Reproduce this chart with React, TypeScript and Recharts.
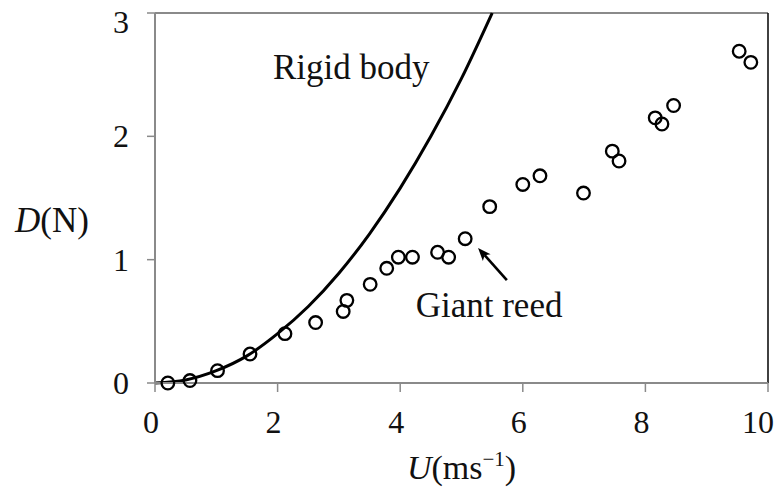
import { ComposedChart, Line, ReferenceDot, ReferenceLine, Scatter, XAxis, YAxis } from "recharts";

// Rigid body drag curve
const RIGID_U = [0, 0.5, 1, 1.5, 2, 2.5, 3, 3.5, 4, 4.5, 5, 5.5];
const RIGID_D = [0, 0.025, 0.1, 0.22, 0.4, 0.62, 0.89, 1.21, 1.58, 2.0, 2.47, 3.0];

// Giant reed measurements (open circles)
const REED_U = [0.21, 0.57, 1.02, 1.55, 2.12, 2.62, 3.07, 3.13, 3.51, 3.78, 3.97, 4.2, 4.61, 4.79, 5.06, 5.46, 6.0, 6.28, 6.99, 7.46, 7.57, 8.16, 8.27, 8.46, 9.53, 9.72];
const REED_D = [0, 0.02, 0.1, 0.235, 0.4, 0.49, 0.58, 0.67, 0.8, 0.93, 1.02, 1.02, 1.06, 1.02, 1.17, 1.43, 1.61, 1.68, 1.54, 1.88, 1.8, 2.15, 2.1, 2.25, 2.69, 2.6];

const X_TICKS = [0, 2, 4, 6, 8, 10];
const Y_TICKS = [0, 1, 2, 3];

// annotation anchors, in data units
const RIGID_LABEL = { u: 3.2, d: 2.56, text: "Rigid body" };
const REED_LABEL = { u: 5.45, d: 0.63, text: "Giant reed" };
const ARROW = { fromU: 5.74, fromD: 0.835, toU: 5.27, toD: 1.095 };

const FONT = "'Liberation Serif', 'DejaVu Serif', serif";
const AXIS_GRAY = "#8a8a8a";

const rigidData = RIGID_U.map((u, i) => ({ u, d: RIGID_D[i] }));
const reedData = REED_U.map((u, i) => ({ u, d: REED_D[i] }));

function XTick({ x, y, payload }: any) {
  const last = payload.value === X_TICKS[X_TICKS.length - 1];
  return (
    <text
      x={last ? x + 7 : x - 4}
      y={y + 39}
      textAnchor={last ? "end" : "middle"}
      fontFamily={FONT}
      fontSize={32}
      fill="#111"
    >
      {payload.value}
    </text>
  );
}

function YTick({ x, y, payload }: any) {
  return (
    <text x={x - 16} y={Math.max(y, 22) + 11} textAnchor="end" fontFamily={FONT} fontSize={32} fill="#111">
      {payload.value}
    </text>
  );
}

function OpenCircle({ cx, cy }: any) {
  return <circle cx={cx} cy={cy} r={6.3} fill="none" stroke="#000" strokeWidth={2.3} />;
}

function ArrowShape({ x1, y1, x2, y2 }: any) {
  if (x1 == null) return null;
  const ang = Math.atan2(y2 - y1, x2 - x1);
  const len = 14;
  const spread = 0.38;
  const ax = x2 - len * Math.cos(ang - spread);
  const ay = y2 - len * Math.sin(ang - spread);
  const bx = x2 - len * Math.cos(ang + spread);
  const by = y2 - len * Math.sin(ang + spread);
  const bx2 = x2 - len * 0.7 * Math.cos(ang);
  const by2 = y2 - len * 0.7 * Math.sin(ang);
  return (
    <g>
      <line x1={x1} y1={y1} x2={bx2} y2={by2} stroke="#000" strokeWidth={2.6} />
      <path d={`M${x2},${y2} L${ax},${ay} L${bx2},${by2} L${bx},${by} Z`} fill="#000" />
    </g>
  );
}

function textShape(text: string) {
  return ({ cx, cy }: any) => (
    <text x={cx} y={cy} textAnchor="middle" dominantBaseline="central" fontFamily={FONT} fontSize={35} fill="#111">
      {text}
    </text>
  );
}

export default function App() {
  return (
    <div style={{ position: "absolute", left: 0, top: 0, background: "#fff" }}>
      <ComposedChart width={775} height={501} margin={{ top: 13, right: 7, bottom: 0, left: 0 }}>
        <XAxis
          type="number"
          dataKey="u"
          domain={[0, 10]}
          ticks={X_TICKS}
          height={118}
          axisLine={{ stroke: AXIS_GRAY, strokeWidth: 2 }}
          tickLine={{ stroke: AXIS_GRAY, strokeWidth: 1.5 }}
          tickSize={9}
          tick={<XTick />}
          label={{
            content: ({ viewBox }: any) => (
              <text
                x={viewBox.x + viewBox.width / 2}
                y={viewBox.y + 96}
                textAnchor="middle"
                fontFamily={FONT}
                fontSize={34}
                fill="#111"
              >
                <tspan fontStyle="italic">U</tspan>
                <tspan>(ms</tspan>
                <tspan fontSize={21} dy={-13}>−1</tspan>
                <tspan dy={13}>)</tspan>
              </text>
            ),
          }}
        />
        <YAxis
          type="number"
          dataKey="d"
          domain={[0, 3]}
          ticks={Y_TICKS}
          width={155}
          axisLine={{ stroke: AXIS_GRAY, strokeWidth: 2 }}
          tickLine={{ stroke: AXIS_GRAY, strokeWidth: 1.5 }}
          tickSize={8}
          tick={<YTick />}
          label={{
            content: ({ viewBox }: any) => (
              <text
                x={viewBox.x + 52}
                y={viewBox.y + viewBox.height / 2 + 34}
                textAnchor="middle"
                fontFamily={FONT}
                fontSize={35}
                fill="#111"
              >
                <tspan fontStyle="italic">D</tspan>
                <tspan>(N)</tspan>
              </text>
            ),
          }}
        />
        <ReferenceLine y={3} stroke={AXIS_GRAY} strokeWidth={2} />
        <ReferenceLine x={10} stroke="#111" strokeWidth={1.6} />
        <Line
          data={rigidData}
          dataKey="d"
          type="monotone"
          stroke="#000"
          strokeWidth={3}
          dot={false}
          isAnimationActive={false}
        />
        <Scatter data={reedData} dataKey="d" shape={<OpenCircle />} isAnimationActive={false} />
        <ReferenceLine
          segment={[
            { x: ARROW.fromU, y: ARROW.fromD },
            { x: ARROW.toU, y: ARROW.toD },
          ]}
          shape={(p: any) => <ArrowShape {...p} />}
        />
        <ReferenceDot x={RIGID_LABEL.u} y={RIGID_LABEL.d} r={0} shape={textShape(RIGID_LABEL.text)} />
        <ReferenceDot x={REED_LABEL.u} y={REED_LABEL.d} r={0} shape={textShape(REED_LABEL.text)} />
      </ComposedChart>
    </div>
  );
}
